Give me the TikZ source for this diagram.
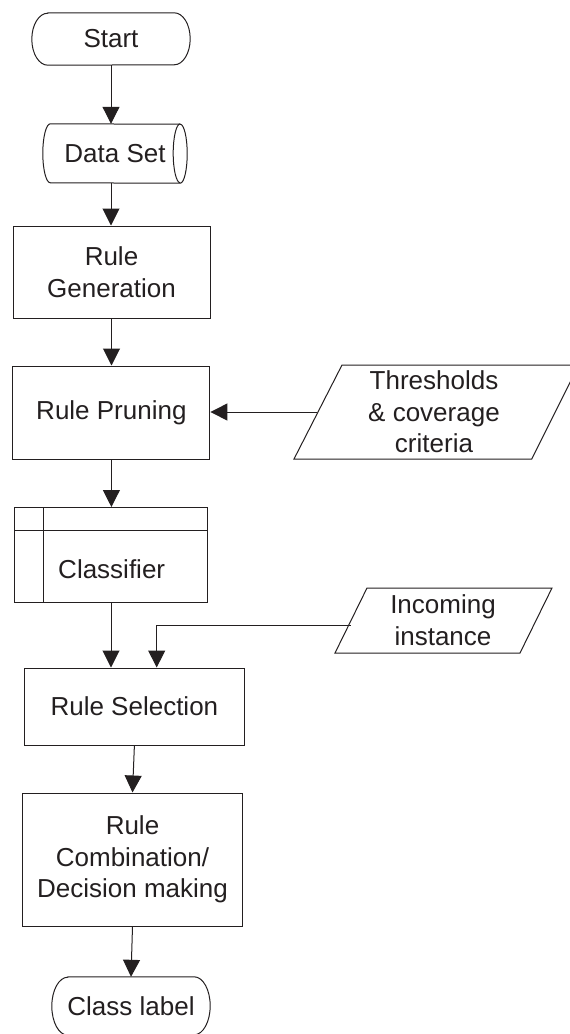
\documentclass[tikz,border=0pt]{standalone}
\usepackage{fontspec}
\setmainfont{Liberation Sans}
\usetikzlibrary{arrows.meta}
\definecolor{ink}{HTML}{231F20}

% rounded terminal with elliptical ends: node name, x radius, y radius
\newcommand\termshape[3]{%
  \draw[edge] ([xshift=#2]#1.north west) -- ([xshift=-#2]#1.north east)
    arc[start angle=90,end angle=-90,x radius=#2,y radius=#3]
    -- ([xshift=#2]#1.south west)
    arc[start angle=270,end angle=90,x radius=#2,y radius=#3] -- cycle;}

\begin{document}
\begin{tikzpicture}[x=1pt,y=-1pt,
  every node/.style={font=\fontsize{26pt}{31.5pt}\selectfont,text=ink,inner sep=0pt,align=center},
  edge/.style={draw=ink,line width=1pt},
  proc/.style={edge,rectangle},
  arr/.style={edge,-{Triangle[length=17pt,width=17pt]}}]
\useasboundingbox (0,0) rectangle (570,1034);

% terminals
\node[minimum width=158pt,minimum height=52pt] (start) at (111,39) {Start};
\termshape{start}{16pt}{26pt}
\node[minimum width=158pt,minimum height=58pt] (cls) at (131,1006) {Class label};
\termshape{cls}{16pt}{29pt}

% stored data (horizontal cylinder)
\node[minimum width=144pt,minimum height=59pt] (data) at (115,153.5) {Data Set};
\draw[edge] ([xshift=7.5pt]data.north west)
    arc[start angle=90,end angle=270,x radius=7.5pt,y radius=29.5pt]
    -- ([xshift=-7pt]data.south east)
    arc[start angle=270,end angle=450,x radius=7pt,y radius=29.5pt] -- cycle;
\draw[edge] ([xshift=-7pt]data.north east)
    arc[start angle=90,end angle=270,x radius=7pt,y radius=29.5pt];

% processes
\node[proc,minimum width=197pt,minimum height=92pt] (rg) at (111.5,272) {Rule\\Generation};
\node[proc,minimum width=197pt,minimum height=93pt] (rp) at (111.4,412.5) {Rule Pruning};
\node[proc,minimum width=192.5pt,minimum height=95pt] (clf) at (111,555) {};
\draw[edge] ([xshift=29.5pt]clf.north west) -- ([xshift=29.5pt]clf.south west);
\draw[edge] ([yshift=-23.5pt]clf.north west) -- ([yshift=-23.5pt]clf.north east);
\node (clftxt) at (111.7,569) {Classifier};
\node[proc,minimum width=220pt,minimum height=77pt] (rs) at (134.4,706.5) {Rule Selection};
\node[proc,minimum width=220pt,minimum height=133pt] (rc) at (132.5,859.5) {Rule\\Combination/\\Decision making};

% inputs (parallelograms)
\draw[edge] (342,365) -- (578.7,365) -- (531.7,459) -- (294,459) -- cycle;
\node (thr) at (434,412) {Thresholds\\\& coverage\\criteria};
\coordinate (thrin) at (317,412);
\draw[edge] (367,588) -- (552,588) -- (520,653) -- (335,653) -- cycle;
\node (inc) at (443,620) {Incoming\\instance};
\coordinate (incin) at (350.5,625);

% flow
\draw[arr] (start.south) -- (start.south |- data.north);
\draw[arr] (data.south -| start.south) -- (start.south |- rg.north);
\draw[arr] (rg.south) -- (rg.south |- rp.north);
\draw[arr] (thrin) -- (thrin -| rp.east);
\draw[arr] (rp.south) -- (rp.south |- clf.north);
\draw[arr] (clf.south) -- (clf.south |- rs.north);
\draw[arr] (incin) -| ([xshift=22.3pt]rs.north);
\draw[arr] (rs.south) -- (rc.north);
\draw[arr] (rc.south) -- (cls.north);
\end{tikzpicture}
\end{document}
